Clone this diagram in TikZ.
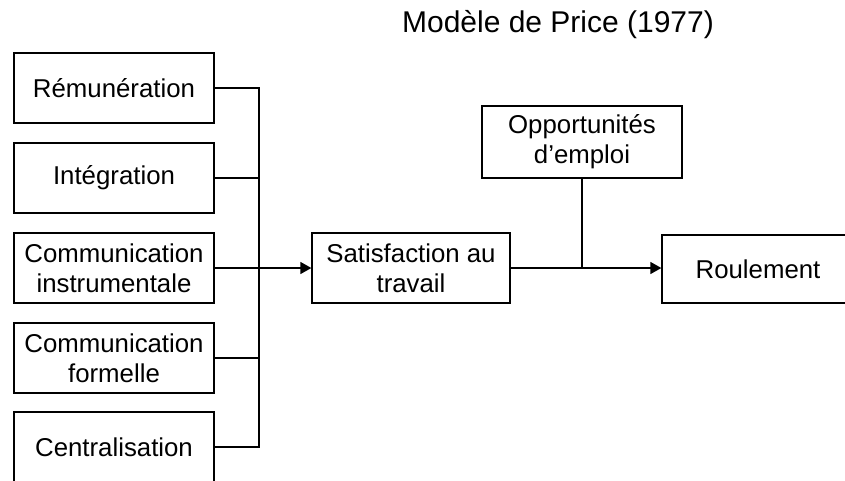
\documentclass[tikz,border=0pt]{standalone}
\usepackage{fontspec}
\setmainfont{Liberation Sans}
\usetikzlibrary{arrows.meta}
\tikzset{
  boite/.style={draw, line width=1.3pt, minimum width=200pt, minimum height=70pt,
    align=center, inner sep=0pt, font=\fontsize{25.8}{30}\selectfont},
  fleche/.style={-{Triangle[length=11pt,width=12pt]}},
}
\begin{document}
\begin{tikzpicture}[x=1pt,y=-1pt,line width=1.3pt]
    \clip (0,0) rectangle (845,480);

    % Titre
    \node[font=\fontsize{30}{34}\selectfont] (titre) at (558,25) {Modèle de Price (1977)};

    % Facteurs à gauche
    \node[boite] (remu) at (114,88) {Rémunération};
    \node[boite] (integ) at (114,178) {Intégration};
    \node[boite] (instr) at (114,268) {Communication\\instrumentale};
    \node[boite] (formel) at (114,358) {Communication\\formelle};
    \node[boite] (centr) at (114,447) {Centralisation};

    % Satisfaction, opportunités et roulement
    \node[boite, minimum width=198pt] (satis) at (411,268) {Satisfaction au\\travail};
    \node[boite, minimum height=72pt] (opport) at (582,142) {Opportunités\\d'emploi};
    \node[boite, minimum width=192pt, minimum height=68pt] (roul) at (758,269) {Roulement};

    % Barre verticale de regroupement
    \coordinate (bus) at (259,268);
    \draw (remu.east) -| (bus |- centr.east) -- (centr.east);
    \draw (integ.east) -- (integ.east -| bus);
    \draw (formel.east) -- (formel.east -| bus);

    % Flèches
    \draw[fleche] (instr.east) -- (satis.west);
    \draw[fleche] (satis.east) -- (satis.east -| roul.west);
    \draw (opport.south) -- (opport.south |- satis.east);

\end{tikzpicture}
\end{document}
